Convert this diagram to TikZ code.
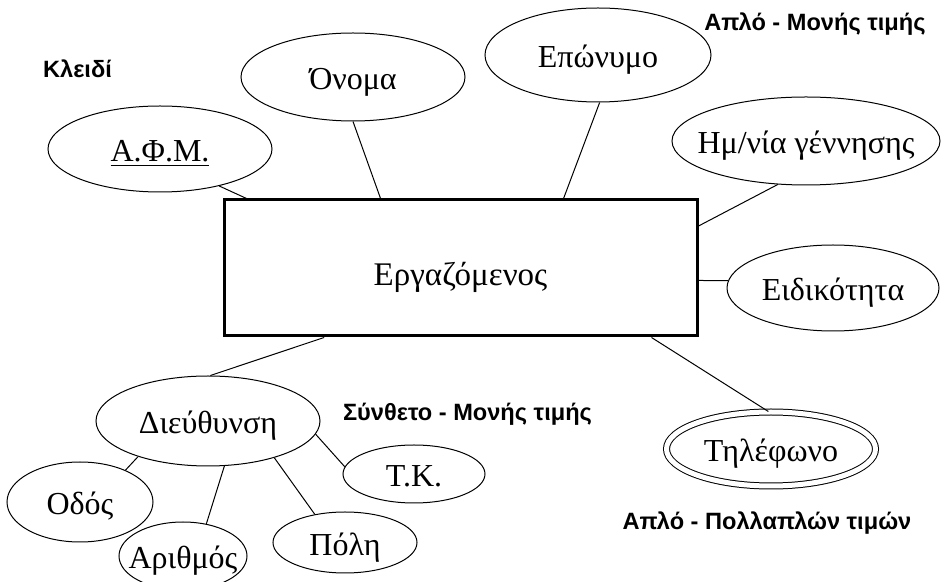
\documentclass[tikz,border=0pt]{standalone}
\usepackage{fontspec}
\setmainfont{Liberation Serif}
\setsansfont{Liberation Sans}
\usetikzlibrary{shapes.geometric, positioning}

\begin{document}
\begin{tikzpicture}[x=0.5pt,y=-0.5pt,line width=0.5pt,font=\fontsize{16}{19}\selectfont]
    \tikzset{
        entity node/.style={rectangle, draw, line width=1.5pt, minimum width=236.5pt, minimum height=68pt, inner sep=0, text height=21pt, text depth=3pt, font=\fontsize{16.5}{19}\selectfont},
        attr node/.style={ellipse, draw, inner sep=0, fill=white, text height=15pt, text depth=2pt, execute at begin node={\hbox to 0pt\bgroup\hss}, execute at end node={\hss\egroup}},
        multi node/.style={attr node, double, double distance=2.5pt},
        note/.style={font=\fontsize{11.8}{14}\selectfont\sffamily\bfseries, anchor=base, inner sep=0}
      }
\useasboundingbox (0,0) rectangle (944,582);
\node[entity node] (emp) at (460.5,268) {Εργαζόμενος};
\node[attr node, minimum width=112pt, minimum height=43pt] (afm) at (160,149) {\underline{Α.Φ.Μ.}};
\node[attr node, minimum width=112pt, minimum height=44pt] (onoma) at (353,77) {Όνομα};
\node[attr node, minimum width=113pt, minimum height=47pt] (eponymo) at (598,55) {Επώνυμο};
\node[attr node, minimum width=134pt, minimum height=44pt] (birth) at (806,141) {Ημ/νία γέννησης};
\node[attr node, minimum width=106pt, minimum height=43pt] (eidik) at (833,288) {Ειδικότητα};
\node[multi node, minimum width=104.5pt, minimum height=37pt] (phone) at (771,449) {Τηλέφωνο};
\node[attr node, minimum width=112pt, minimum height=45pt] (address) at (208,421) {Διεύθυνση};
\node[attr node, minimum width=73pt, minimum height=40pt] (street) at (80,502) {Οδός};
\node[attr node, minimum width=64pt, minimum height=34pt] (number) at (183,556) {Αριθμός};
\node[attr node, minimum width=72pt, minimum height=30.5pt] (city) at (345,542.5) {Πόλη};
\node[attr node, minimum width=71pt, minimum height=29pt] (zip) at (414,474) {Τ.Κ.};

\node[note] (keylbl) at (77.5,78) {Κλειδί};
\node[note] (singlelbl) at (815,31) {Απλό - Μονής τιμής};
\node[note] (complbl) at (467.5,421) {Σύνθετο - Μονής τιμής};
\node[note] (multilbl) at (767,530) {Απλό - Πολλαπλών τιμών};

\draw (afm.-32) -- (emp.162.5);
\draw (onoma.-90) -- (emp.139);
\draw (eponymo.-88) -- (emp.34);
\draw (birth.-123) -- (emp.10.5);
\draw (eidik.176) -- (emp.-3);
\draw (address.87.5) -- (emp.-153.4);
\draw (phone.94) -- (emp.-20.4);
\draw (address.-153) -- (street.35);
\draw (address.-70) -- (number.54);
\draw (address.-29) -- (city.137);
\draw (address.-7) -- (zip.174);
\end{tikzpicture}
\end{document}
